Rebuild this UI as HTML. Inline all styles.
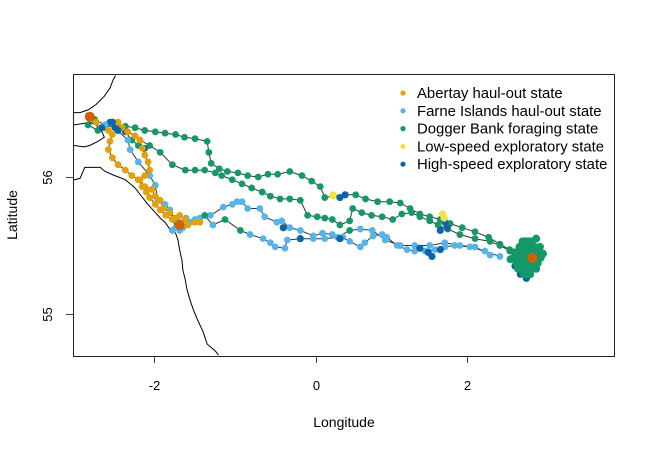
<!DOCTYPE html>
<html><head><meta charset="utf-8"><style>
html,body{margin:0;padding:0;background:#fff;}
svg{display:block;font-family:"Liberation Sans",Arial,sans-serif;}
</style></head><body>
<svg id="chart" width="652" height="450" viewBox="0 0 652 450">
<defs><clipPath id="pc"><rect x="73.5" y="74.5" width="541" height="282"/></clipPath></defs>
<g id="plot" clip-path="url(#pc)"></g>
<rect x="73.5" y="74.5" width="541" height="282" fill="none" stroke="#222" stroke-width="1"/>
<g id="axes"></g>
<text x="344" y="427" font-size="14" text-anchor="middle">Longitude</text>
<text x="17" y="215" font-size="14" text-anchor="middle" transform="rotate(-90 17 215)">Latitude</text>
<g id="legend"></g>
</svg>
<script>
// ---- data ----
const xTicks=[-2,0,2];
const yTicks=[55,56];
const stateNames=["Abertay haul-out state","Farne Islands haul-out state","Dogger Bank foraging state","Low-speed exploratory state","High-speed exploratory state"];
const stateCodes=["A","F","D","L","H"];
const stateColors={A:"#E69F00",F:"#56B4E9",D:"#159868",L:"#F0E442",H:"#0B64A8"};

const coast1Lon=[-2.47,-2.50,-2.54,-2.61,-2.71,-2.81,-2.91,-2.98,-3.05];
const coast1Lat=[56.74,56.71,56.65,56.59,56.53,56.49,56.47,56.47,56.47];
const coast2Lon=[-3.05,-2.98,-2.88,-2.79,-2.71,-2.64,-2.61,-2.69,-2.79,-2.86,-2.98,-3.05];
const coast2Lat=[56.38,56.38,56.39,56.40,56.38,56.33,56.29,56.26,56.23,56.22,56.23,56.23];
const coast3Lon=[-3.05,-2.98,-2.91,-2.85,-2.66,-2.60,-2.48,-2.35,-2.23,-2.14,-2.07,-1.98,-1.92,-1.86,-1.80,-1.73,-1.70,-1.68,-1.65,-1.64,-1.61,-1.59,-1.55,-1.51,-1.46,-1.39,-1.34,-1.24,-1.20];
const coast3Lat=[55.98,55.98,55.99,56.07,56.07,56.04,56.01,55.98,55.92,55.85,55.80,55.74,55.70,55.67,55.62,55.59,55.54,55.47,55.39,55.32,55.25,55.18,55.10,55.03,54.96,54.87,54.78,54.73,54.70];

const t1Lon=[-2.73,-2.60,-2.48,-2.35,-2.23,-2.11,-1.98,-1.86,-1.73,-1.62,-1.49,-1.34,-1.32,-1.29,-1.19,-1.09,-0.96,-0.84,-0.71,-0.59,-0.47,-0.32,-0.17,-0.05,0.06,0.12,0.23,0.39,0.53,0.66,0.82,0.98,1.12,1.25,1.38,1.51,1.65,1.78,1.94,2.11,2.29,2.44,2.57];
const t1Lat=[56.42,56.38,56.38,56.37,56.36,56.34,56.33,56.32,56.31,56.29,56.28,56.26,56.18,56.10,56.06,56.04,56.03,56.01,56.00,56.02,56.02,56.04,56.01,55.97,55.93,55.85,55.86,55.87,55.87,55.84,55.82,55.82,55.81,55.77,55.73,55.71,55.69,55.66,55.63,55.60,55.56,55.51,55.47];
const t1State="DDDDDDDDDDDDDDDDDDDDDDDDDDLHDDDDDDDDDDDDDDD";

const t2Lon=[-2.17,-2.05,-1.92,-1.77,-1.61,-1.49,-1.37,-1.24,-1.16,-1.03,-0.91,-0.79,-0.66,-0.56,-0.44,-0.32,-0.19,-0.10,0.02,0.12,0.22,0.32,0.45,0.49,0.61,0.74,0.88,1.02,1.14,1.27,1.38,1.51,1.62,1.75,1.91,2.11,2.31,2.44,2.57];
const t2Lat=[56.27,56.23,56.18,56.09,56.05,56.05,56.05,56.03,56.01,55.98,55.95,55.92,55.89,55.86,55.84,55.84,55.83,55.72,55.71,55.70,55.69,55.65,55.68,55.77,55.74,55.72,55.71,55.69,55.73,55.74,55.71,55.68,55.65,55.62,55.58,55.55,55.53,55.50,55.46];
const t2State="DDDDDDDDDDDDDDDDDDDDDDDDDDDDDDDDDDDDDDD";

const t3Lon=[-1.68,-1.55,-1.43,-1.30,-1.14,-1.03,-0.97,-0.91,-0.84,-0.69,-0.63,-0.48,-0.42,-0.32,-0.19,-0.03,0.09,0.22,0.36,0.45,0.59,0.65,0.76,0.88,0.94,1.08,1.21,1.31,1.45,1.58,1.71,1.84,2.04,2.24,2.44];
const t3Lat=[55.67,55.67,55.70,55.72,55.78,55.80,55.82,55.82,55.77,55.77,55.71,55.67,55.68,55.63,55.61,55.57,55.59,55.58,55.56,55.53,55.49,55.52,55.57,55.58,55.56,55.50,55.47,55.46,55.46,55.47,55.49,55.50,55.49,55.46,55.42];
const t3State="FFFFFFFFFFFFFFFFFFFFFFFFFFFFFFFFFFF";

const t4Lon=[-1.49,-1.37,-1.27,-1.12,-0.93,-0.81,-0.65,-0.56,-0.50,-0.38,-0.35,-0.19,-0.03,0.12,0.29,0.45,0.59,0.75,0.92,1.12,1.31,1.51,1.71,1.91,2.11,2.31];
const t4Lat=[55.69,55.72,55.65,55.69,55.61,55.58,55.55,55.52,55.49,55.48,55.54,55.55,55.55,55.55,55.56,55.61,55.62,55.61,55.54,55.50,55.50,55.50,55.52,55.50,55.49,55.43];
const t4State="FDFDDFFFFFFFFFFDFFFFFFFFFF";

const t5Lon=[-2.79,-2.71,-2.64,-2.56,-2.51,-2.54,-2.56,-2.51,-2.44,-2.35,-2.27,-2.19,-2.14,-2.09,-2.05,-1.98,-1.92,-1.85,-1.77,-1.70,-1.64,-1.58,-1.49,-1.43];
const t5Lat=[56.44,56.40,56.36,56.34,56.31,56.26,56.20,56.14,56.09,56.05,56.01,55.98,55.93,55.89,55.85,55.80,55.76,55.72,55.69,55.66,55.63,55.65,55.67,55.67];
const t5State="AAHAAAAAAAAAAAAAAAAFFAAA";

const t6Lon=[-2.44,-2.39,-2.32,-2.23,-2.17,-2.14,-2.11,-2.07,-2.05,-2.11,-2.17,-2.11,-2.02,-1.98,-1.92,-1.88,-1.80,-1.73,-1.68,-1.61];
const t6Lat=[56.40,56.36,56.33,56.30,56.27,56.21,56.16,56.11,56.05,56.01,55.98,55.93,55.91,55.86,55.83,55.77,55.74,55.70,55.72,55.69];
const t6State="AAAAAAAAAAAAAAAAAAAA";

const t7Lon=[-2.60,-2.48,-2.32,-2.29,-2.19,-2.05,-1.98,-1.95,-1.86,-1.80,-1.73,-1.68,-1.77,-1.60];
const t7Lat=[56.38,56.36,56.27,56.20,56.11,56.01,55.94,55.83,55.80,55.76,55.63,55.61,55.61,55.70];
const t7State="FHFFFFFFFFFFFF";

const t8Lon=[-2.81,-2.69,-2.60,-2.54,-2.44,-2.35,-2.27,-2.19,-2.11];
const t8Lat=[56.38,56.34,56.36,56.40,56.37,56.33,56.27,56.23,56.21];
const t8State="DDDHDHDDH";

const hLon=[0.32,0.39,1.71,1.65,1.74,1.38,1.49,1.54,1.65,-0.40,0.32,2.64,2.71,2.79,-0.19,-2.51,-2.44];
const hLat=[55.85,55.87,55.67,55.61,55.63,55.48,55.45,55.42,55.47,55.63,55.55,55.35,55.29,55.26,55.55,56.40,56.34];
const lLon=[0.23,1.68,1.70];
const lLat=[55.87,55.73,55.70];

const clusterLon=[2.62,2.66,2.70,2.74,2.78,2.82,2.86,2.90,2.94,2.98, 2.64,2.68,2.72,2.76,2.80,2.84,2.88,2.92,2.96, 2.66,2.70,2.74,2.78,2.82,2.86,2.90,2.94, 2.70,2.74,2.78,2.82,2.86,2.90, 2.68,2.72,2.76,2.80,2.84,2.88,2.92, 2.74,2.78,2.82,2.86, 2.76,2.80,2.84, 2.58,3.01,2.92,2.97];
const clusterLat=[55.41,55.41,55.41,55.41,55.41,55.41,55.41,55.41,55.41,55.41, 55.45,55.45,55.45,55.45,55.45,55.45,55.45,55.45,55.45, 55.37,55.37,55.37,55.37,55.37,55.37,55.37,55.37, 55.49,55.49,55.49,55.49,55.49,55.49, 55.33,55.33,55.33,55.33,55.33,55.33,55.33, 55.53,55.53,55.53,55.53, 55.29,55.29,55.29, 55.40,55.44,55.55,55.49];

const centreLon=[-2.79,-1.68,2.87];
const centreLat=[56.44,55.65,55.41];

// ---- scales ----
function xs(lon){return lon<0?315.7+lon*81:315.7+lon*75.5;}
function ys(lat){return 177-(lat-56)*137;}

const NS="http://www.w3.org/2000/svg";
const plot=document.getElementById('plot');
const axes=document.getElementById('axes');
const legend=document.getElementById('legend');
function mk(tag,attrs,parent){const e=document.createElementNS(NS,tag);for(const k in attrs)e.setAttribute(k,attrs[k]);parent.appendChild(e);return e;}
function pts(lo,la){return lo.map((v,i)=>xs(v).toFixed(1)+","+ys(la[i]).toFixed(1)).join(" ");}

[[coast1Lon,coast1Lat],[coast2Lon,coast2Lat],[coast3Lon,coast3Lat]].forEach(c=>{
  const p=mk('polyline',{points:pts(c[0],c[1]),fill:'none',stroke:'#000','stroke-width':1},plot);
  
  
});

const tracks=[[t1Lon,t1Lat,t1State],[t2Lon,t2Lat,t2State],[t3Lon,t3Lat,t3State],[t4Lon,t4Lat,t4State],[t8Lon,t8Lat,t8State],[t7Lon,t7Lat,t7State],[t6Lon,t6Lat,t6State],[t5Lon,t5Lat,t5State]];
tracks.forEach(t=>{
  const l=mk('polyline',{points:pts(t[0],t[1]),fill:'none',stroke:'#333','stroke-width':1},plot);
  
  
});
tracks.forEach(t=>{
  t[0].forEach((v,i)=>{
    const s=t[2][i];
    const c=mk('circle',{cx:xs(v),cy:ys(t[1][i]),r:3.4,fill:stateColors[s]},plot);
    
    
  });
});
hLon.forEach((v,i)=>{
  const c=mk('circle',{cx:xs(v),cy:ys(hLat[i]),r:3.6,fill:stateColors.H},plot);
  
  
});
lLon.forEach((v,i)=>{
  const c=mk('circle',{cx:xs(v),cy:ys(lLat[i]),r:3.6,fill:stateColors.L},plot);
  
  
});
clusterLon.forEach((v,i)=>{
  const c=mk('circle',{cx:xs(v),cy:ys(clusterLat[i]),r:4,fill:stateColors.D},plot);
  
  
});
centreLon.forEach((v,i)=>{
  const c=mk('circle',{cx:xs(v),cy:ys(centreLat[i]),r:5,fill:'#D55E00'},plot);
  
  
});

xTicks.forEach(t=>{
  const x=Math.round(xs(t))+0.5;
  const l=mk('line',{x1:x,x2:x,y1:356.5,y2:363,stroke:'#444'},axes);
  
  
  const tx=mk('text',{x:x,y:390,'font-size':13,'text-anchor':'middle'},axes);
  tx.textContent=String(t);
  
  
});
yTicks.forEach(t=>{
  const y=Math.round(ys(t))+0.5;
  const l=mk('line',{x1:66,x2:73.5,y1:y,y2:y,stroke:'#444'},axes);
  
  
  const tx=mk('text',{x:52,y:y,'font-size':13,'text-anchor':'middle',transform:'rotate(-90 52 '+y+')'},axes);
  tx.textContent=String(t);
  
  
});

stateNames.forEach((n,i)=>{
  const y=93+i*17.8;
  const c=mk('circle',{cx:403,cy:y,r:2.6,fill:stateColors[stateCodes[i]]},legend);
  
  
  const tx=mk('text',{x:417,y:y+5,'font-size':14.9},legend);
  tx.textContent=n;
  
  
});
</script>
</body></html>
